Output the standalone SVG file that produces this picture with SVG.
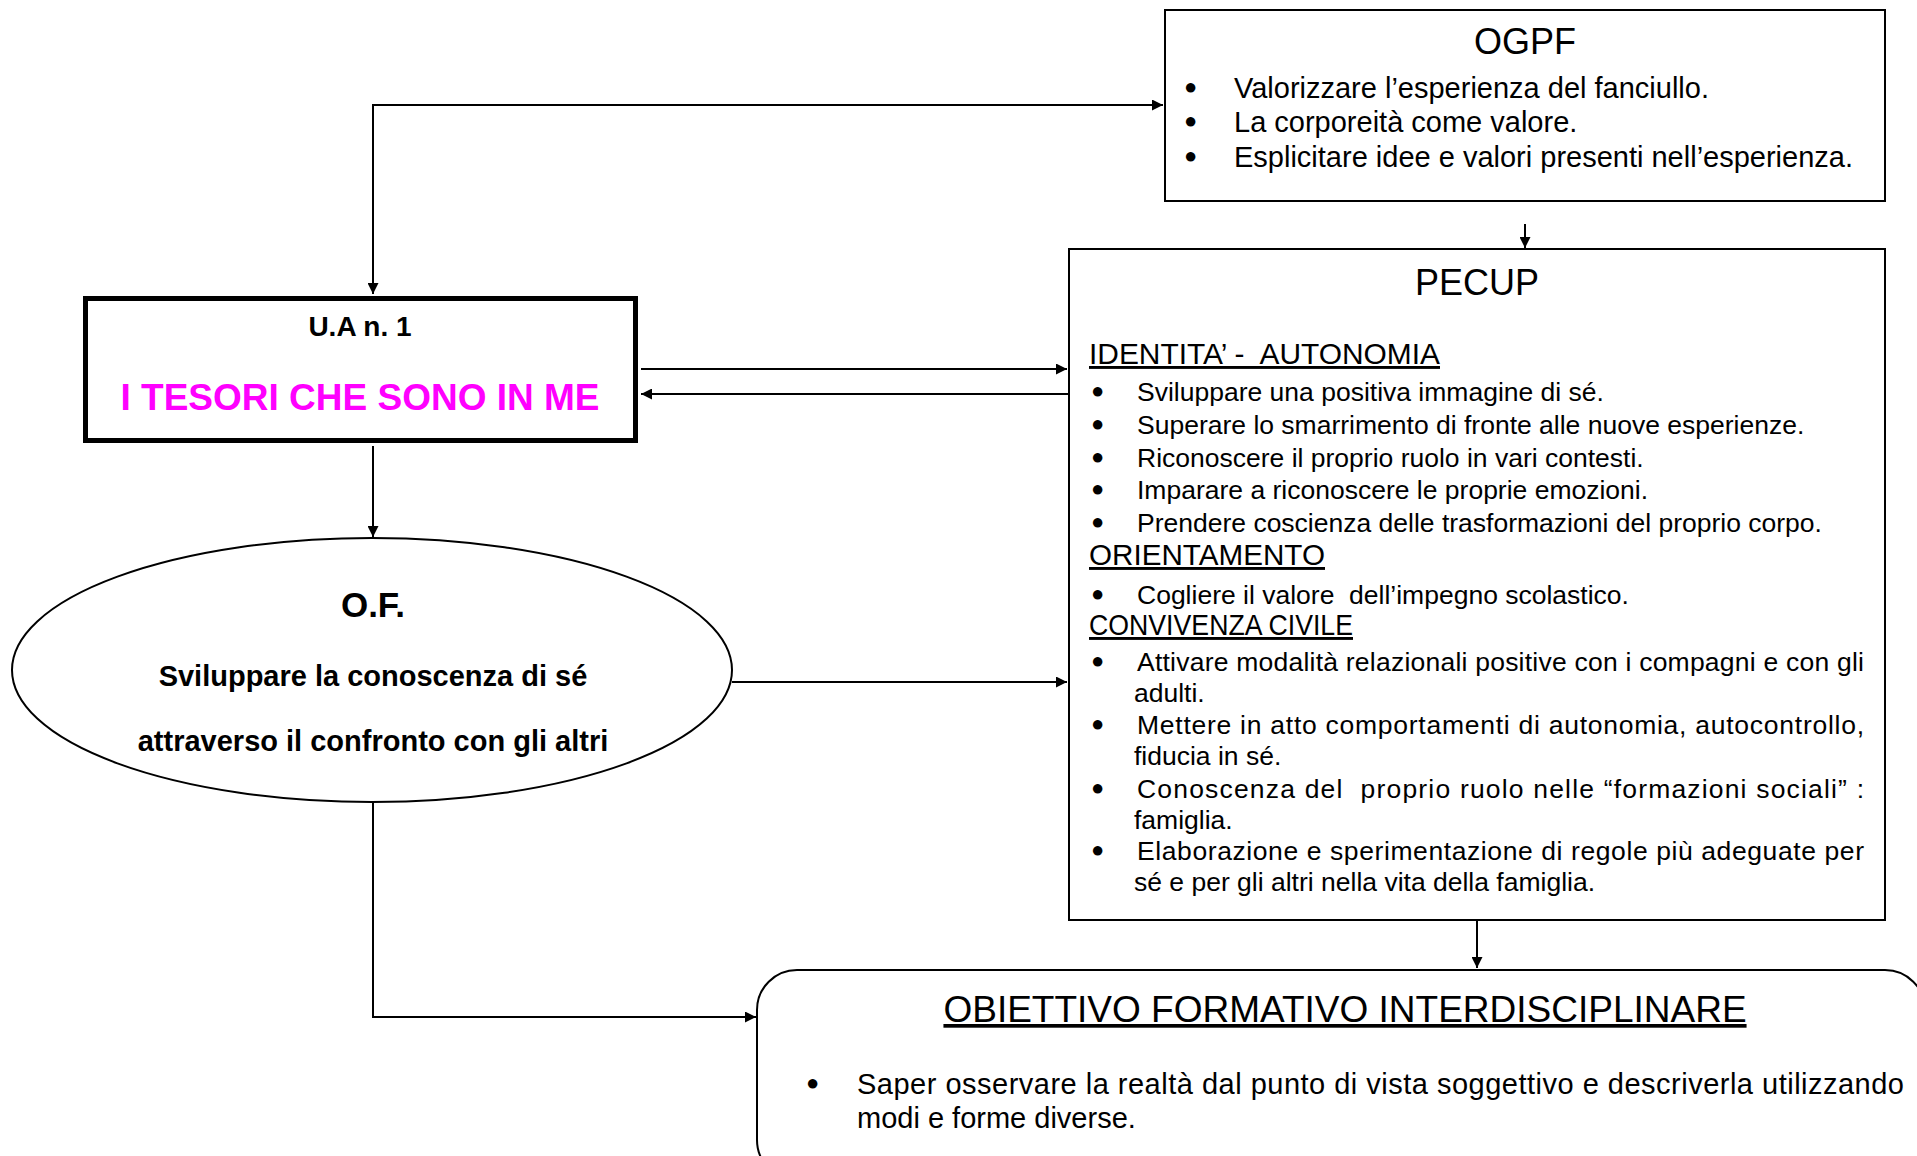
<svg xmlns="http://www.w3.org/2000/svg" width="1917" height="1156" viewBox="0 0 1917 1156">
<style>
text{font-family:"Liberation Sans",Arial,sans-serif;fill:#000;white-space:pre}
.b{font-weight:bold}
.u{text-decoration:underline}
.box{fill:#fff;stroke:#000;stroke-width:2}
.ln{fill:none;stroke:#000;stroke-width:2}
.t29{font-size:29px}
.t26{font-size:26.5px}
.bul{font-size:22px}
</style>
<defs>
<marker id="ah" viewBox="0 0 10 10" refX="10" refY="5" markerWidth="13" markerHeight="11" markerUnits="userSpaceOnUse" orient="auto-start-reverse">
<path d="M0,0 L10,5 L0,10 z" fill="#000"/>
</marker>
</defs>
<rect width="1917" height="1156" fill="#fff"/>

<g id="connectors">
<path class="ln" d="M373,294 V105 H1163" marker-start="url(#ah)" marker-end="url(#ah)"/>
<path class="ln" d="M641,369 H1067" marker-end="url(#ah)"/>
<path class="ln" d="M1069,394 H641" marker-end="url(#ah)"/>
<path class="ln" d="M373,446 V537" marker-end="url(#ah)"/>
<path class="ln" d="M732,682 H1067" marker-end="url(#ah)"/>
<path class="ln" d="M373,802 V1017 H756" marker-end="url(#ah)"/>
<path class="ln" d="M1525,224 V248" marker-end="url(#ah)"/>
<path class="ln" d="M1477,921 V968" marker-end="url(#ah)"/>
</g>

<g id="ua">
<rect x="85.5" y="298.5" width="550" height="142" fill="#fff" stroke="#000" stroke-width="5"/>
<text class="b" x="360" y="336" font-size="28" text-anchor="middle">U.A n. 1</text>
<text class="b" x="360" y="410" font-size="37" text-anchor="middle" style="fill:#ff00ff">I TESORI CHE SONO IN ME</text>
</g>

<g id="of">
<ellipse cx="372" cy="670" rx="360" ry="132" class="box"/>
<text class="b" x="373" y="617" font-size="35" text-anchor="middle">O.F.</text>
<text class="b" x="373" y="686" font-size="29" text-anchor="middle">Sviluppare la conoscenza di sé</text>
<text class="b" x="373" y="751" font-size="29" text-anchor="middle">attraverso il confronto con gli altri</text>
</g>

<g id="ogpf">
<rect x="1165" y="10" width="720" height="191" class="box"/>
<text x="1525" y="54" font-size="36" text-anchor="middle">OGPF</text>
<g class="t29">
<text class="bul" x="1184" y="94">●</text>
<text x="1234" y="98">Valorizzare l’esperienza del fanciullo.</text>
<text class="bul" x="1184" y="128">●</text>
<text x="1234" y="132">La corporeità come valore.</text>
<text class="bul" x="1184" y="163">●</text>
<text x="1234" y="167">Esplicitare idee e valori presenti nell’esperienza.</text>
</g>
</g>

<g id="pecup">
<rect x="1069" y="249" width="816" height="671" class="box"/>
<text x="1477" y="295" font-size="36" text-anchor="middle">PECUP</text>
<text class="t29 u" x="1089" y="364" textLength="351" lengthAdjust="spacingAndGlyphs">IDENTITA’ -  AUTONOMIA</text>
<g class="t26">
<text class="bul" x="1091" y="398" font-size="18">●</text>
<text x="1137" y="401">Sviluppare una positiva immagine di sé.</text>
<text class="bul" x="1091" y="431" font-size="18">●</text>
<text x="1137" y="434">Superare lo smarrimento di fronte alle nuove esperienze.</text>
<text class="bul" x="1091" y="464" font-size="18">●</text>
<text x="1137" y="467">Riconoscere il proprio ruolo in vari contesti.</text>
<text class="bul" x="1091" y="496" font-size="18">●</text>
<text x="1137" y="499">Imparare a riconoscere le proprie emozioni.</text>
<text class="bul" x="1091" y="529" font-size="18">●</text>
<text x="1137" y="532">Prendere coscienza delle trasformazioni del proprio corpo.</text>
</g>
<text class="t29 u" x="1089" y="565" textLength="236" lengthAdjust="spacingAndGlyphs">ORIENTAMENTO</text>
<g class="t26">
<text class="bul" x="1091" y="601" font-size="18">●</text>
<text x="1137" y="604">Cogliere il valore  dell’impegno scolastico.</text>
</g>
<text class="t29 u" x="1089" y="635" textLength="264" lengthAdjust="spacingAndGlyphs">CONVIVENZA CIVILE</text>
<g class="t26">
<text class="bul" x="1091" y="668" font-size="18">●</text>
<text x="1137" y="671" textLength="727" lengthAdjust="spacing">Attivare modalità relazionali positive con i compagni e con gli</text>
<text x="1134" y="702">adulti.</text>
<text class="bul" x="1091" y="731" font-size="18">●</text>
<text x="1137" y="734" textLength="727" lengthAdjust="spacing">Mettere in atto comportamenti di autonomia, autocontrollo,</text>
<text x="1134" y="765">fiducia in sé.</text>
<text class="bul" x="1091" y="795" font-size="18">●</text>
<text x="1137" y="798" textLength="727" lengthAdjust="spacing">Conoscenza del  proprio ruolo nelle “formazioni sociali” :</text>
<text x="1134" y="829">famiglia.</text>
<text class="bul" x="1091" y="857" font-size="18">●</text>
<text x="1137" y="860" textLength="727" lengthAdjust="spacing">Elaborazione e sperimentazione di regole più adeguate per</text>
<text x="1134" y="891">sé e per gli altri nella vita della famiglia.</text>
</g>
</g>

<g id="obiettivo">
<rect x="757" y="970" width="1168" height="210" rx="40" ry="40" class="box"/>
<text class="u" x="1345" y="1022" font-size="37" text-anchor="middle">OBIETTIVO FORMATIVO INTERDISCIPLINARE</text>
<g class="t29">
<text class="bul" x="806" y="1090">●</text>
<text x="857" y="1094" textLength="1047" lengthAdjust="spacing">Saper osservare la realtà dal punto di vista soggettivo e descriverla utilizzando</text>
<text x="857" y="1128">modi e forme diverse.</text>
</g>
</g>
</svg>
